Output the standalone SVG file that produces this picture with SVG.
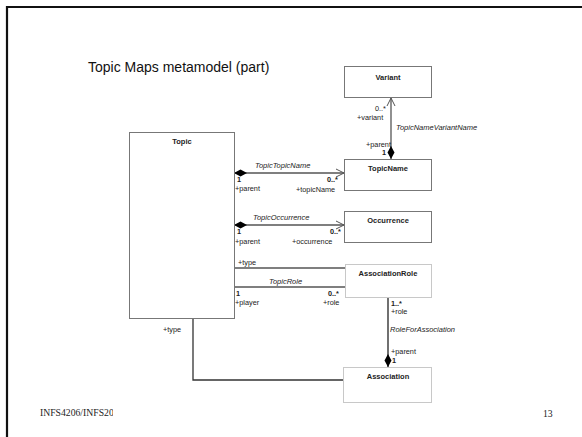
<svg xmlns="http://www.w3.org/2000/svg" width="582" height="437" viewBox="0 0 582 437">
<defs>
<style>
.box{fill:#fff;stroke:#777;stroke-width:1}
.lbox{fill:#fff;stroke:#c8c8c8;stroke-width:1}
.name{font-family:"Liberation Sans",Arial,sans-serif;font-size:7.5px;font-weight:bold;fill:#222;text-anchor:middle}
.lbl{font-family:"Liberation Sans",Arial,sans-serif;font-size:7.3px;fill:#222}
.it{font-family:"Liberation Sans",Arial,sans-serif;font-size:7.5px;font-style:italic;fill:#222}
.ln{fill:none;stroke:#555;stroke-width:1.3}
.foot{font-family:"Liberation Serif","Times New Roman",serif;font-size:9.7px;fill:#222}
</style>
<marker id="open" markerWidth="10" markerHeight="10" refX="9" refY="5" orient="auto" markerUnits="userSpaceOnUse">
<path d="M1,1 L9,5 L1,9" fill="none" stroke="#555" stroke-width="1"/>
</marker>
<marker id="dia" markerWidth="14" markerHeight="8" refX="0" refY="4" orient="auto" markerUnits="userSpaceOnUse">
<path d="M0,4 L6.5,0.5 L13,4 L6.5,7.5 Z" fill="#000"/>
</marker>
<clipPath id="fclip"><rect x="0" y="380" width="113" height="57"/></clipPath>
</defs>
<rect width="582" height="437" fill="#fff"/>
<path d="M7,437 V7 H582" fill="none" stroke="#111" stroke-width="2.2"/>
<text class="foot" x="40" y="416" clip-path="url(#fclip)">INFS4206/INFS2060</text>
<text class="foot" x="543" y="417">13</text>
<text x="88" y="72" font-family="Liberation Sans,Arial,sans-serif" font-size="14" fill="#111">Topic Maps metamodel (part)</text>
<g id="connectors">
<line class="ln" x1="391" y1="159" x2="391" y2="98" marker-start="url(#dia)" marker-end="url(#open)"/>
<line class="ln" x1="234" y1="173" x2="344" y2="173" marker-start="url(#dia)" marker-end="url(#open)"/>
<line class="ln" x1="234" y1="225" x2="344" y2="225" marker-start="url(#dia)" marker-end="url(#open)"/>
<line class="ln" x1="234" y1="268" x2="345" y2="268"/>
<line class="ln" x1="234" y1="287" x2="345" y2="287"/>
<line x1="388" y1="367" x2="388" y2="298" stroke="#111" stroke-width="1.2" marker-start="url(#dia)"/>
<path d="M193,318 V380 H343" fill="none" stroke="#333" stroke-width="1.3"/>
<text class="lbl" x="375" y="111">0..*</text>
<text class="lbl" x="357" y="120">+variant</text>
<text class="it" x="396" y="130">TopicNameVariantName</text>
<text class="lbl" x="366" y="147">+parent</text>
<text class="lbl" x="382" y="155" font-weight="bold">1</text>
<text class="it" x="255" y="168">TopicTopicName</text>
<text class="lbl" x="237" y="182" font-weight="bold">1</text>
<text class="lbl" x="235" y="191">+parent</text>
<text class="lbl" x="327" y="182" font-weight="bold">0..*</text>
<text class="lbl" x="296" y="192">+topicName</text>
<text class="it" x="253" y="220">TopicOccurrence</text>
<text class="lbl" x="237" y="234" font-weight="bold">1</text>
<text class="lbl" x="235" y="244">+parent</text>
<text class="lbl" x="330" y="234" font-weight="bold">0..*</text>
<text class="lbl" x="292" y="244">+occurrence</text>
<text class="lbl" x="238" y="265" font-size="8">+type</text>
<text class="it" x="269" y="284">TopicRole</text>
<text class="lbl" x="236" y="296" font-weight="bold">1</text>
<text class="lbl" x="235" y="305">+player</text>
<text class="lbl" x="328" y="296" font-weight="bold">0..*</text>
<text class="lbl" x="323" y="305">+role</text>
<text class="lbl" x="391" y="306" font-weight="bold">1..*</text>
<text class="lbl" x="391" y="314">+role</text>
<text class="it" x="390" y="332">RoleForAssociation</text>
<text class="lbl" x="391" y="354">+parent</text>
<text class="lbl" x="392" y="363" font-weight="bold">1</text>
<text class="lbl" x="163" y="332" font-size="8">+type</text>
</g>
<g id="variant"><rect class="box" x="344.5" y="66.5" width="87" height="31"/><text class="name" x="388" y="80">Variant</text></g>
<g id="topic"><rect class="box" x="129.5" y="132.5" width="105" height="186"/><text class="name" x="182" y="144">Topic</text></g>
<g id="topicname"><rect class="box" x="344.5" y="159.5" width="87" height="31"/><text class="name" x="388" y="171">TopicName</text></g>
<g id="occurrence"><rect class="box" x="344.5" y="211.5" width="87" height="31"/><text class="name" x="388" y="223">Occurrence</text></g>
<g id="associationrole"><rect class="lbox" x="345.5" y="264.5" width="86" height="33"/><text class="name" x="388" y="276">AssociationRole</text></g>
<g id="association"><rect class="lbox" x="343.5" y="367.5" width="88" height="35"/><text class="name" x="388" y="379">Association</text></g>
</svg>
